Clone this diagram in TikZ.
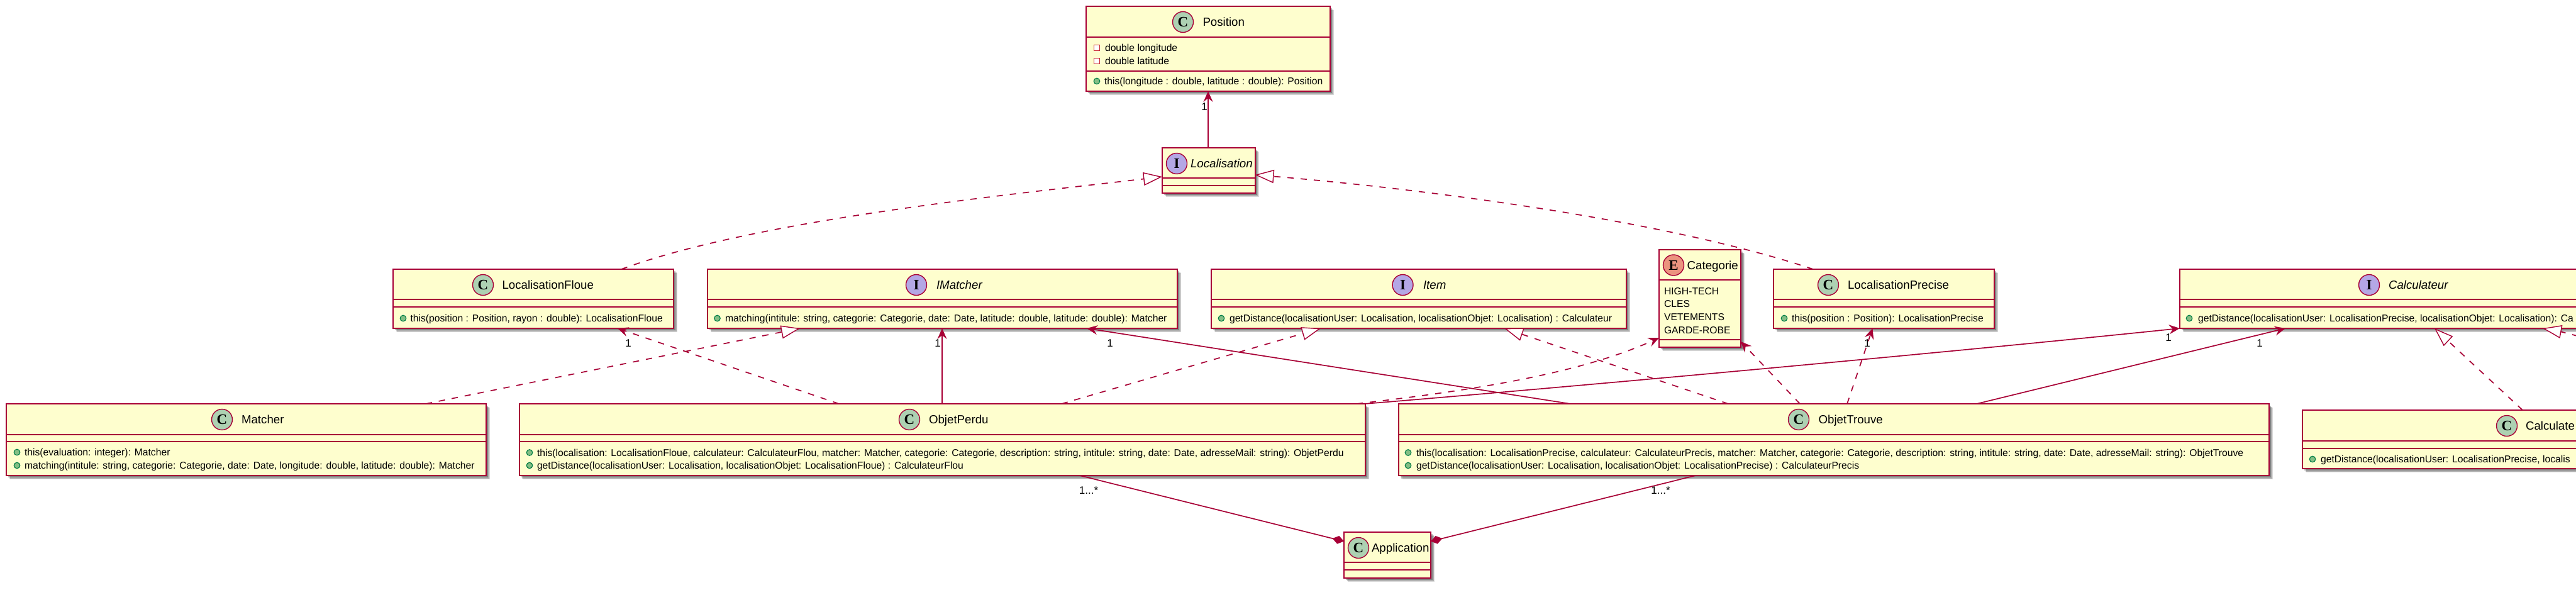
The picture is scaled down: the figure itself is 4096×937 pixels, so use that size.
\documentclass[tikz,border=0pt]{standalone}
\usepackage{fontspec}
\setmainfont{Liberation Sans}
\newfontfamily\spotfont{Liberation Serif}
\usetikzlibrary{calc,arrows.meta}
\definecolor{umlline}{HTML}{A80036}
\definecolor{umlfill}{HTML}{FEFECE}
\definecolor{spotC}{HTML}{ADD1B2}
\definecolor{spotI}{HTML}{B4A7E5}
\definecolor{spotE}{HTML}{EB937F}
\definecolor{pubfill}{HTML}{84BE84}
\definecolor{publine}{HTML}{038048}
\definecolor{privline}{HTML}{C82930}
\tikzset{
  classbody/.style={draw=umlline,fill=umlfill,line width=2pt,inner sep=0,outer sep=0,rectangle,anchor=north west},
  sepline/.style={draw=umlline,line width=2pt},
  spot/.style={circle,draw=umlline,line width=1.4pt,minimum size=33pt,inner sep=0,outer sep=0,font=\fontsize{23}{23}\spotfont\bfseries},
  nametext/.style={inner sep=0,outer sep=0,anchor=base west,yshift=-6.7pt,font=\fontsize{18.7}{22}\selectfont},
  inametext/.style={nametext,font=\fontsize{18.7}{22}\selectfont\itshape},
  membertext/.style={inner sep=0,outer sep=0,anchor=base west,yshift=-5.6pt,font=\fontsize{15.7}{21}\selectfont},
  labeltext/.style={inner sep=0,outer sep=0,font=\fontsize{17}{20}\selectfont},
  pubicon/.style={circle,draw=publine,fill=pubfill,line width=1.2pt,minimum size=9.5pt,inner sep=0,outer sep=0},
  privicon/.style={rectangle,draw=privline,fill=white,line width=1.2pt,minimum size=9.5pt,inner sep=0,outer sep=0},
  conn/.style={draw=umlline,line width=1.7pt},
  dashline/.style={conn,dash pattern=on 10pt off 11pt},
  assoc/.style={conn,-{Stealth[length=17pt,width=15pt,inset=6pt,fill=umlline]}},
  dep/.style={dashline,-{Stealth[length=17pt,width=15pt,inset=6pt,fill=umlline]}},
  realize/.style={dashline,-{Triangle[length=30pt,width=21pt,fill=white,line width=1.4pt]}},
  compo/.style={conn,-{Diamond[length=19pt,width=13pt,fill=umlline]}}
}
% name, x1, y1, x2, y2, sep1, sep2
\newcommand\umlbox[7]{%
  \foreach \off/\op in {6/.14,4.5/.2,3/.25}{%
    \fill[black,opacity=\op] ({#2+\off},{#3+\off}) rectangle ({#4+\off},{#5+\off});
  }
  \node[classbody,minimum width={(#4-#2)*1pt},minimum height={(#5-#3)*1pt}] (#1) at (#2,#3) {};
  \draw[sepline] ($(#1.north west)+(0,#6-#3)$) -- ($(#1.north east)+(0,#6-#3)$);
  \draw[sepline] ($(#1.north west)+(0,#7-#3)$) -- ($(#1.north east)+(0,#7-#3)$);
}
% name, spot colour, letter, spot x, y, name style, name x, text
\newcommand\umlhead[8]{%
  \node[spot,fill=#2] (#1s) at (#4,#5) {#3};
  \node[#6] (#1n) at (#7,#5) {#8};
}
% id, icon x, text x, y, text
\newcommand\pubm[5]{%
  \node[pubicon] (#1i) at (#2,#4) {};
  \node[membertext] (#1t) at (#3,#4) {#5};
}
\newcommand\privm[5]{%
  \node[privicon] (#1i) at (#2,#4) {};
  \node[membertext] (#1t) at (#3,#4) {#5};
}
\begin{document}
\begin{tikzpicture}[x=1pt,y=-1pt]
\path[use as bounding box,fill=white] (0,0) rectangle (4096,937);
\clip (0,0) rectangle (4096,937);

\umlbox{P}{1727}{10}{2115}{145}{59}{113}
\umlbox{L}{1848}{235}{1995.5}{307}{283}{295}
\umlbox{LF}{625}{428}{1071}{522}{476}{488}
\umlbox{IM}{1125}{428}{1872}{522}{476}{488}
\umlbox{IT}{1926}{428}{2586}{522}{476}{488}
\umlbox{CA}{2638}{397}{2768}{552}{445}{540}
\umlbox{LP}{2820}{428}{3171}{522}{476}{488}
\umlbox{CL}{3466}{428}{4200}{522}{476}{488}
\umlbox{MA}{10}{642}{773}{756}{691}{702}
\umlbox{OP}{825.5}{642}{2171}{756}{690.5}{702}
\umlbox{OT}{2223.5}{642}{3608}{756}{690.5}{702}
\umlbox{CX}{3661}{652}{4200}{745}{700.5}{712.5}
\umlbox{AP}{2137}{846}{2275}{919}{894}{906}

\umlhead{P}{spotC}{C}{1881}{35}{nametext}{1912.5}{Position}
\umlhead{L}{spotI}{I}{1871}{260}{inametext}{1893}{Localisation}
\umlhead{LF}{spotC}{C}{768}{453}{nametext}{798.5}{LocalisationFloue}
\umlhead{IM}{spotI}{I}{1457}{453}{inametext}{1489}{IMatcher}
\umlhead{IT}{spotI}{I}{2230.5}{453}{inametext}{2263}{Item}
\umlhead{CA}{spotE}{E}{2661}{421.5}{nametext}{2682.7}{Categorie}
\umlhead{LP}{spotC}{C}{2907}{453}{nametext}{2938}{LocalisationPrecise}
\umlhead{CL}{spotI}{I}{3767}{453}{inametext}{3798}{Calculateur}
\umlhead{MA}{spotC}{C}{353}{667}{nametext}{384}{Matcher}
\umlhead{OP}{spotC}{C}{1446}{667}{nametext}{1477}{ObjetPerdu}
\umlhead{OT}{spotC}{C}{2860}{667}{nametext}{2891.6}{ObjetTrouve}
\umlhead{CX}{spotC}{C}{3986}{677}{nametext}{4016}{Calculate}
\umlhead{AP}{spotC}{C}{2160}{871}{nametext}{2181}{Application}

\privm{Pa}{1744}{1757}{76}{double longitude}
\privm{Pb}{1744}{1757}{97}{double latitude}
\pubm{Pc}{1744}{1756}{129}{this(longitude : double, latitude : double): Position}
\pubm{LFa}{641}{652.5}{506}{this(position : Position, rayon : double): LocalisationFloue}
\pubm{IMa}{1140.5}{1153}{506}{matching(intitule: string, categorie: Categorie, date: Date, latitude: double, latitude: double): Matcher}
\pubm{ITa}{1942}{1955}{506}{getDistance(localisationUser: Localisation, localisationObjet: Localisation) : Calculateur}
\pubm{LPa}{2837}{2849}{506}{this(position : Position): LocalisationPrecise}
\pubm{CLa}{3481}{3495}{506}{getDistance(localisationUser: LocalisationPrecise, localisationObjet: Localisation): Ca}
\pubm{MAa}{27}{39}{719}{this(evaluation: integer): Matcher}
\pubm{MAb}{27}{39}{740}{matching(intitule: string, categorie: Categorie, date: Date, longitude: double, latitude: double): Matcher}
\pubm{OPa}{842}{854}{719.5}{this(localisation: LocalisationFloue, calculateur: CalculateurFlou, matcher: Matcher, categorie: Categorie, description: string, intitule: string, date: Date, adresseMail: string): ObjetPerdu}
\pubm{OPb}{842}{854}{740}{getDistance(localisationUser: Localisation, localisationObjet: LocalisationFloue) : CalculateurFlou}
\pubm{OTa}{2239}{2252}{719.5}{this(localisation: LocalisationPrecise, calculateur: CalculateurPrecis, matcher: Matcher, categorie: Categorie, description: string, intitule: string, date: Date, adresseMail: string): ObjetTrouve}
\pubm{OTb}{2239}{2252}{740}{getDistance(localisationUser: Localisation, localisationObjet: LocalisationPrecise) : CalculateurPrecis}
\pubm{CXa}{3677}{3690}{730}{getDistance(localisationUser: LocalisationPrecise, localis}
\node[membertext] (CAa) at (2646,463) {HIGH-TECH};
\node[membertext] (CAb) at (2646,483) {CLES};
\node[membertext] (CAc) at (2646,504) {VETEMENTS};
\node[membertext] (CAd) at (2646,525) {GARDE-ROBE};

% connectors
\coordinate (offpage) at (4120,540);
\draw[assoc] ($(L.north west)+(73,0)$) -- ($(P.south west)+(194,0)$);
\draw[realize] ($(LF.north west)+(363,0)$) .. controls (1200,350) and (1600,310) .. ($(L.north west)+(0,46)$);
\draw[realize] ($(LP.north west)+(63,0)$) .. controls (2650,350) and (2260,300) .. ($(L.north east)+(0,43)$);
\draw[dep] ($(OP.north west)+(508.5,0)$) -- ($(LF.south west)+(357,0)$);
\draw[realize] ($(MA.north west)+(667,0)$) -- ($(IM.south west)+(147,0)$);
\draw[assoc] ($(OP.north west)+(672.5,0)$) -- ($(IM.south west)+(373,0)$);
\draw[assoc] ($(OT.north west)+(273.5,0)$) -- ($(IM.south west)+(603,0)$);
\draw[realize] ($(OP.north west)+(862.5,0)$) -- ($(IT.south west)+(174,0)$);
\draw[realize] ($(OT.north west)+(524.5,0)$) -- ($(IT.south west)+(466,0)$);
\draw[dep] ($(OP.north west)+(1331.5,0)$) .. controls (2300,625) and (2500,600) .. ($(CA.north west)+(0,140)$);
\draw[dep] ($(OT.north west)+(638.5,0)$) -- ($(CA.north east)+(0,146)$);
\draw[dep] ($(OT.north west)+(713.5,0)$) -- ($(LP.south west)+(157.5,0)$);
\draw[assoc] ($(OP.north west)+(1344.5,0)$) .. controls (2500,615) and (3100,560) .. (CL.south west);
\draw[assoc] ($(OT.north west)+(919.5,0)$) -- ($(CL.south west)+(168,0)$);
\draw[realize] ($(CX.north west)+(350,0)$) -- ($(CL.south west)+(405,0)$);
\draw[realize] (offpage) .. controls (4095,533) and (4070,527) .. ($(CL.south west)+(577,0)$);
\draw[compo] ($(OP.south west)+(891.5,0)$) -- ($(AP.north west)+(0,14.6)$);
\draw[compo] ($(OT.south west)+(472.5,0)$) -- ($(AP.north east)+(0,14.6)$);

% labels
\node[labeltext] (m1) at (1915,170) {1};
\node[labeltext] (m2) at (999,546) {1};
\node[labeltext] (m3) at (1491,546) {1};
\node[labeltext] (m4) at (1765,546) {1};
\node[labeltext] (m5) at (2969,546) {1};
\node[labeltext] (m6) at (3448,537) {1};
\node[labeltext] (m7) at (3593,546) {1};
\node[labeltext] (m8) at (1731,780) {1...*};
\node[labeltext] (m9) at (2640.5,780) {1...*};
\end{tikzpicture}
\end{document}
